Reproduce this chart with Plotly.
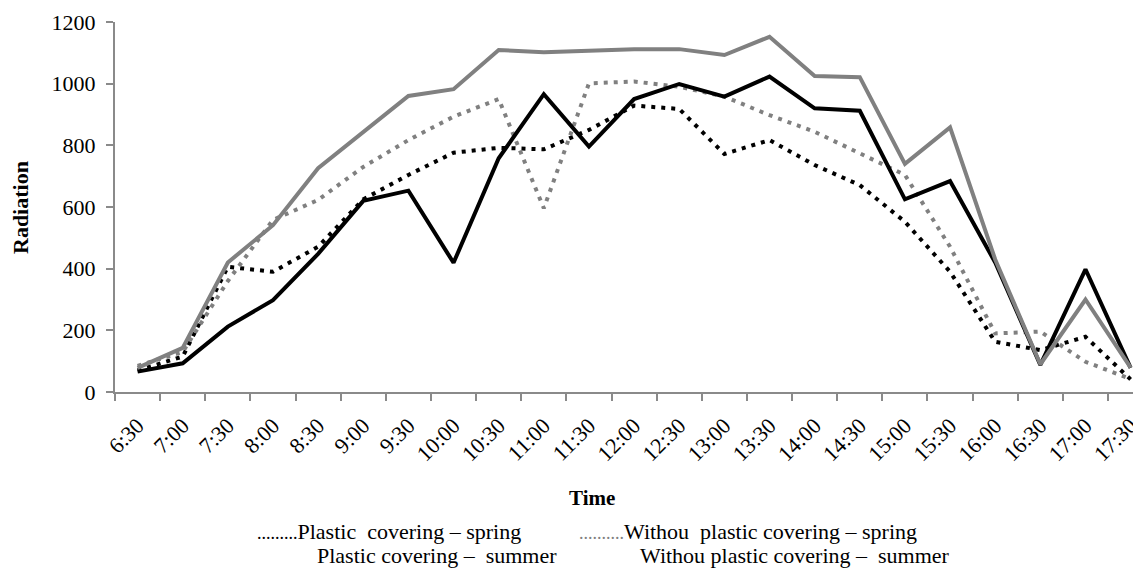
import plotly.graph_objects as go

times = ["6:30", "7:00", "7:30", "8:00", "8:30", "9:00", "9:30", "10:00", "10:30", "11:00",
         "11:30", "12:00", "12:30", "13:00", "13:30", "14:00", "14:30", "15:00", "15:30",
         "16:00", "16:30", "17:00", "17:30"]

plastic_spring = [70, 115, 406, 390, 471, 625, 704, 776, 792, 787, 850, 929, 918, 772, 817,
                  736, 671, 552, 390, 163, 136, 179, 41]
without_spring = [85, 130, 360, 558, 623, 730, 817, 893, 950, 596, 1001, 1007, 990, 958, 898,
                  844, 774, 704, 471, 190, 196, 98, 42]
plastic_summer = [66, 93, 212, 298, 448, 620, 653, 419, 758, 966, 796, 950, 999, 958, 1023,
                  920, 912, 625, 684, 420, 88, 398, 78]
without_summer = [78, 143, 420, 541, 726, 845, 960, 982, 1109, 1102, 1107, 1112, 1112, 1093,
                  1152, 1025, 1021, 740, 858, 430, 90, 300, 79]

y_ticks = [0, 200, 400, 600, 800, 1000, 1200]

FONT = "Liberation Serif"
GRAY = "#808080"
AXIS = "#8a8a8a"

fig = go.Figure()
fig.add_trace(go.Scatter(x=times, y=plastic_spring, mode="lines", name="Plastic covering – spring",
                         line=dict(color="black", width=4, dash="4px,6px"), showlegend=False))
fig.add_trace(go.Scatter(x=times, y=without_spring, mode="lines", name="Withou plastic covering – spring",
                         line=dict(color=GRAY, width=4, dash="4px,6px"), showlegend=False))
fig.add_trace(go.Scatter(x=times, y=plastic_summer, mode="lines", name="Plastic covering – summer",
                         line=dict(color="black", width=4), showlegend=False))
fig.add_trace(go.Scatter(x=times, y=without_summer, mode="lines", name="Withou plastic covering – summer",
                         line=dict(color=GRAY, width=4), showlegend=False))

# page has an 8px body margin; figure placed at (8, 8)
OFF = 8
PL, PT, PR, PB = 115, 22, 1141, 392      # plot area in page pixels
W, H = 1141 - OFF, 568 - OFF
pw = PR - PL
ph = PB - PT

def px(x):
    return (x - PL) / pw

def py(y):
    return (PB - y) / ph

fig.update_layout(
    width=W, height=H,
    margin=dict(l=PL - OFF, r=0, t=PT - OFF, b=H - (PB - OFF), pad=0),
    paper_bgcolor="white", plot_bgcolor="white",
    font=dict(family=FONT, size=22, color="black"),
    xaxis=dict(type="category", categoryorder="array", categoryarray=times,
               range=[-0.5, 22.23], showgrid=False, showline=True, linecolor=AXIS, linewidth=2,
               ticks="outside", ticklen=7, tickcolor=AXIS, tickwidth=2, tickson="boundaries",
               tickangle=-45, tickfont=dict(family=FONT, size=22, color="black"), zeroline=False,
               ticklabelstandoff=10),
    yaxis=dict(range=[0, 1200], tickvals=y_ticks, showgrid=False, showline=True, linecolor=AXIS,
               linewidth=2, ticks="outside", ticklen=7, tickcolor=AXIS, tickwidth=2,
               tickfont=dict(family=FONT, size=22, color="black"), zeroline=False,
               ticklabelstandoff=6),
)

ann = [
    dict(text="<b>Radiation</b>", x=px(20), y=py(208), textangle=-90, xanchor="center", yanchor="middle",
         font=dict(size=22)),
    dict(text="<b>Time</b>", x=px(592), y=py(498), xanchor="center", yanchor="middle", font=dict(size=21)),
    dict(text="<span style='font-size:18px'>.........</span>Plastic&nbsp; covering – spring",
         x=px(255), y=py(531), xanchor="left", yanchor="middle"),
    dict(text="<span style='font-size:18px;color:#808080'>..........</span>Withou&nbsp; plastic covering – spring",
         x=px(577), y=py(531), xanchor="left", yanchor="middle"),
    dict(text="Plastic covering –&nbsp; summer", x=px(315), y=py(555), xanchor="left", yanchor="middle"),
    dict(text="Withou plastic covering –&nbsp; summer", x=px(638), y=py(555), xanchor="left", yanchor="middle"),
]
for a in ann:
    a.update(xref="paper", yref="paper", showarrow=False)
    f = dict(family=FONT, size=22, color="black")
    f.update(a.get("font", {}))
    a["font"] = f
    fig.add_annotation(**a)

fig.write_html("out.html")
